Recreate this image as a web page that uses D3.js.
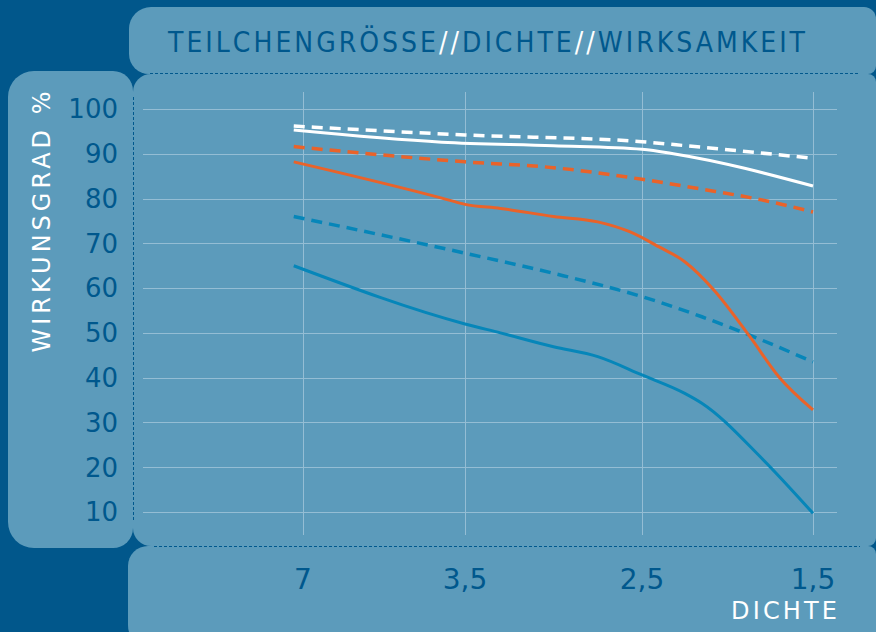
<!DOCTYPE html>
<html>
<head>
<meta charset="utf-8">
<script src="https://cdn.jsdelivr.net/npm/d3@7"></script>
<style>
  html, body { margin: 0; padding: 0; background: #01578b; }
  svg { display: block; }
  text { font-family: "DejaVu Sans", sans-serif; }
</style>
</head>
<body>
<svg id="chart" width="876" height="632"></svg>
<script>
// ---------- DATA ----------
const categories = ["7", "3,5", "2,5", "1,5"];
const densityValues = [7, 3.5, 2.5, 1.5];
const yTicks = [10, 20, 30, 40, 50, 60, 70, 80, 90, 100];
const titleParts = ["TEILCHENGRÖSSE", "//", "DICHTE", "//", "WIRKSAMKEIT"];
const yLabel = "WIRKUNSGRAD %";
const xLabel = "DICHTE";

// [density, efficiency %]
const whiteDashed  = [[7.2, 96.2], [3.5, 94.2], [2.5, 92.7], [2.3, 92.0], [1.5, 89.0]];
const whiteSolid   = [[7.2, 95.3], [4.0, 92.6], [3.0, 91.8], [2.5, 91.0], [2.3, 89.9], [1.5, 82.8]];
const orangeDashed = [[7.2, 91.6], [3.5, 88.2], [3.0, 86.9], [2.5, 84.3], [2.15, 82.1], [1.8, 79.7], [1.5, 77.0]];
const orangeSolid  = [[7.2, 88.2], [4.0, 80.1], [3.5, 78.7], [3.3, 77.8], [3.0, 76.0], [2.75, 74.8], [2.57, 72.6],
                      [2.4, 69.2], [2.25, 65.9], [2.08, 59.6], [1.87, 49.2], [1.7, 40.2], [1.5, 32.8]];
const blueDashed   = [[7.2, 76.0], [3.5, 67.8], [3.0, 63.3], [2.5, 58.1], [2.15, 53.6], [1.8, 48.4], [1.5, 43.5]];
const blueSolid    = [[7.2, 65.0], [3.5, 52.0], [3.3, 50.0], [3.0, 46.9], [2.75, 44.7], [2.5, 40.6],
                      [2.25, 36.5], [2.15, 34.3], [1.8, 22.0], [1.5, 9.7]];

// ---------- STYLE / LAYOUT ----------
const C = {
  bg: "#01578b", panel: "#5c9bbb", text: "#00588d", grid: "#94bdd4",
  white: "#ffffff", orange: "#e9632a", blue: "#0686b9"
};
const seriesList = [
  { data: blueDashed, color: C.blue, dash: "11,7" },
  { data: blueSolid, color: C.blue, dash: null },
  { data: orangeDashed, color: C.orange, dash: "11,7" },
  { data: orangeSolid, color: C.orange, dash: null },
  { data: whiteDashed, color: C.white, dash: "11,7" },
  { data: whiteSolid, color: C.white, dash: null }
];

const svg = d3.select("#chart");

// rounded rect path with per-corner radii [tl, tr, br, bl]
function rr(x0, y0, x1, y1, r) {
  const [tl, tr, br, bl] = r;
  const p = d3.path();
  p.moveTo(x0 + tl, y0);
  p.lineTo(x1 - tr, y0);
  p.arcTo(x1, y0, x1, y0 + tr, tr);
  p.lineTo(x1, y1 - br);
  p.arcTo(x1, y1, x1 - br, y1, br);
  p.lineTo(x0 + bl, y1);
  p.arcTo(x0, y1, x0, y1 - bl, bl);
  p.lineTo(x0, y0 + tl);
  p.arcTo(x0, y0, x0 + tl, y0, tl);
  p.closePath();
  return p.toString();
}

svg.append("rect").attr("width", 876).attr("height", 632).attr("fill", C.bg);

const panels = [
  rr(129, 7, 876, 74, [22, 12, 8, 20]),     // title
  rr(8, 71, 133, 548, [26, 20, 20, 26]),    // left
  rr(133, 74, 876, 546, [18, 8, 8, 18]),    // main
  rr(128, 546, 876, 650, [20, 8, 8, 25])    // bottom
];
svg.selectAll("path.panel").data(panels).join("path")
  .attr("class", "panel").attr("d", d => d).attr("fill", C.panel);

// dotted separators
const sep = svg.append("g").attr("stroke", C.text).attr("stroke-width", 1)
  .attr("stroke-dasharray", "3,2").attr("fill", "none");
sep.append("line").attr("x1", 150).attr("x2", 860).attr("y1", 73.5).attr("y2", 73.5);
sep.append("line").attr("x1", 154).attr("x2", 860).attr("y1", 546.5).attr("y2", 546.5);
sep.append("line").attr("x1", 133.5).attr("x2", 133.5).attr("y1", 97).attr("y2", 520);

// ---------- SCALES ----------
const x = d3.scaleLinear().domain(densityValues).range([303, 465, 642, 813]);
const y = d3.scaleLinear().domain([10, 100]).range([512, 109]);

// grid
const grid = svg.append("g").attr("stroke", C.grid).attr("stroke-width", 1);
grid.selectAll("line.h").data(yTicks).join("line").attr("class", "h")
  .attr("x1", 143).attr("x2", 837)
  .attr("y1", d => Math.round(y(d)) + 0.5).attr("y2", d => Math.round(y(d)) + 0.5);
grid.selectAll("line.v").data(densityValues).join("line").attr("class", "v")
  .attr("x1", d => Math.round(x(d)) + 0.5).attr("x2", d => Math.round(x(d)) + 0.5)
  .attr("y1", 92).attr("y2", 535);

// y tick labels
svg.append("g").selectAll("text").data(yTicks).join("text")
  .attr("x", 118).attr("y", d => y(d)).attr("dy", "0.36em")
  .attr("text-anchor", "end").attr("font-size", 26).attr("fill", C.text)
  .text(d => d);

// x tick labels
svg.append("g").selectAll("text").data(densityValues).join("text")
  .attr("x", d => x(d)).attr("y", 589)
  .attr("text-anchor", "middle").attr("font-size", 28).attr("fill", C.text)
  .text((d, i) => categories[i]);

// lines
const line = d3.line().x(d => x(d[0])).y(d => y(d[1])).curve(d3.curveMonotoneX);
svg.append("g").attr("fill", "none").selectAll("path").data(seriesList).join("path")
  .attr("d", d => line(d.data))
  .attr("stroke", d => d.color)
  .attr("stroke-width", d => d.dash ? 3.5 : 3)
  .attr("stroke-dasharray", d => d.dash)
  .attr("stroke-linejoin", "round");

// title
const title = svg.append("text").attr("x", 168).attr("y", 52)
  .attr("font-size", 28).attr("textLength", 637).attr("lengthAdjust", "spacing")
  .style("font-family", "'Liberation Sans Narrow', 'DejaVu Sans Condensed', 'Roboto', sans-serif")
  .style("font-stretch", "condensed");
title.selectAll("tspan").data(titleParts).join("tspan")
  .attr("fill", d => d === "//" ? C.white : C.text)
  .text(d => d);

// y axis label
svg.append("text")
  .attr("transform", "translate(50,222) rotate(-90)")
  .attr("text-anchor", "middle").attr("font-size", 24).attr("fill", C.white)
  .attr("textLength", 261).attr("lengthAdjust", "spacing")
  .text(yLabel);

// x axis label
svg.append("text").attr("x", 731).attr("y", 619)
  .attr("font-size", 24).attr("fill", C.white)
  .attr("textLength", 106).attr("lengthAdjust", "spacing")
  .text(xLabel);
</script>
</body>
</html>
